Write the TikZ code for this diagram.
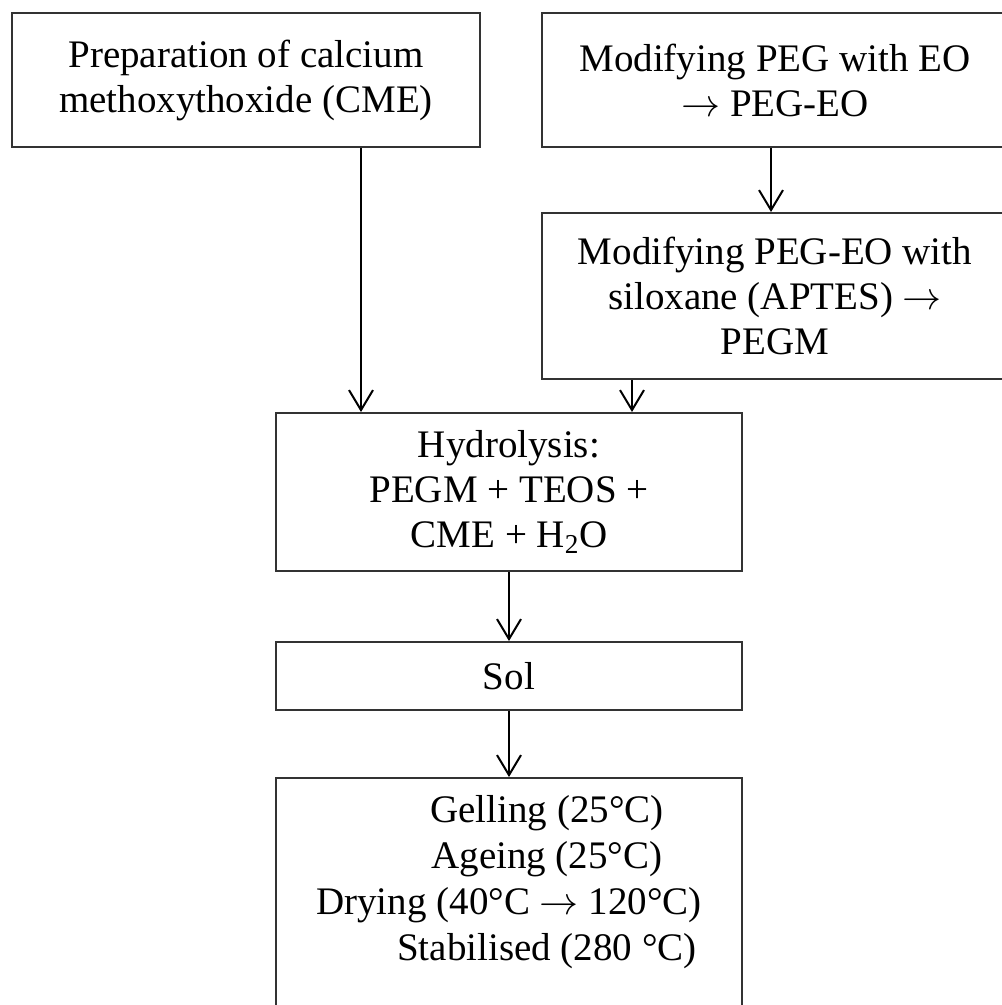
\documentclass[tikz,border=0pt]{standalone}
\usepackage{fix-cm}
\usepackage{fontspec}
\setmainfont{Liberation Serif}
\usetikzlibrary{arrows.meta}

\begin{document}
\begin{tikzpicture}[x = 1pt, y = -1pt]
\tikzstyle{stageStyle} = [shape = rectangle, draw = black!80, line width = 2pt, inner sep = 0pt, align = center, font = \fontsize{39}{45}\selectfont]
\tikzstyle{textStyle} = [inner sep = 0pt, align = center, font = \fontsize{39}{46}\selectfont]
\tikzstyle{flowStyle} = [line width = 2pt, -{Straight Barb[length = 20pt, width = 24pt, line width = 2pt]}]
\useasboundingbox (0,0) rectangle (1002,1005);
\clip (0,0) rectangle (1002,1005);
\node[stageStyle, minimum width = 468pt, minimum height = 134pt] (cme) at (246,80) {Preparation of calcium\\methoxythoxide (CME)};
\node[stageStyle, minimum width = 466pt, minimum height = 134pt] (pegeo) at (775,80) {Modifying PEG with EO\\$\rightarrow$ PEG-EO};
\node[stageStyle, minimum width = 466pt, minimum height = 166pt] (pegm) at (775,296) {Modifying PEG-EO with\\siloxane (APTES) $\rightarrow$\\PEGM};
\node[stageStyle, minimum width = 466pt, minimum height = 158pt] (hydro) at (509,492) {Hydrolysis:\\PEGM + TEOS +\\CME + H\textsubscript{2}O};
\node[stageStyle, minimum width = 466pt, minimum height = 68pt] (sol) at (509,676) {Sol};
\node[stageStyle, minimum width = 466pt, minimum height = 260pt, anchor = north] (gel) at (509,777) {};
\node[textStyle] (geltext) at (509,882) {\hspace*{76pt}Gelling (25°C)\\\hspace*{76pt}Ageing (25°C)\\Drying (40°C $\rightarrow$ 120°C)\\\hspace*{76pt}Stabilised (280 °C)};
\coordinate (c1) at (361,0);
\coordinate (c2) at (771,0);
\coordinate (c3) at (632,0);
\draw[flowStyle] (cme.south -| c1) -- (hydro.north -| c1);
\draw[flowStyle] (pegeo.south -| c2) -- (pegm.north -| c2);
\draw[flowStyle] (pegm.south -| c3) -- (hydro.north -| c3);
\draw[flowStyle] (hydro.south) -- (sol.north);
\draw[flowStyle] (sol.south) -- (gel.north);
\end{tikzpicture}
\end{document}
